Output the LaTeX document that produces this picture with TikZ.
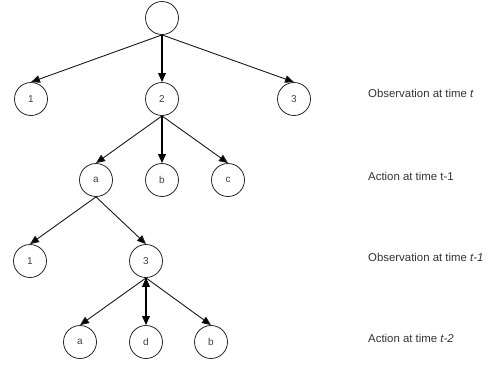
\documentclass[tikz,border=0pt]{standalone}
\usepackage{fontspec}
\setmainfont{Liberation Sans}
\usetikzlibrary{arrows.meta}

\begin{document}
\begin{tikzpicture}[x=1pt, y=1pt,
  state/.style={circle, draw=black!85, line width=0.8pt, minimum size=33pt, inner sep=0pt,
    font=\fontsize{10}{12}\selectfont, text=black!75},
  caption/.style={anchor=base west, inner sep=0pt, font=\fontsize{11.4}{14}\selectfont, text=black!80},
  >={Triangle[length=9pt,width=7.5pt]},
  thin edge/.style={line width=0.9pt},
  main edge/.style={line width=1.7pt}]
  \useasboundingbox (0,0) rectangle (497,-365);

  % tree nodes
  \node[state] (root) at (162,-18) {};
  \node[state] (o1) at (31,-99) {1};
  \node[state] (o2) at (162,-99) {2};
  \node[state] (o3) at (294,-99) {3};
  \node[state] (aa) at (96,-180) {a};
  \node[state] (ab) at (162,-180) {b};
  \node[state] (ac) at (228,-180) {c};
  \node[state] (p1) at (30,-261) {1};
  \node[state] (p3) at (146,-261) {3};
  \node[state] (qa) at (80,-342) {a};
  \node[state] (qd) at (146,-342) {d};
  \node[state] (qb) at (211,-342) {b};

  % level captions
  \node[caption] (l1) at (368,-97.7) {Observation at time \textit{t}};
  \node[caption] (l2) at (368,-180.3) {Action at time t-1};
  \node[caption] (l3) at (368,-261) {Observation at time \textit{t-1}};
  \node[caption] (l4) at (368,-342.5) {Action at time \textit{t-2}};

  \path[->, thin edge, draw=black!90]
  (root.south) edge (o1.north)
  (root.south) edge (o3.north)
  (o2.south) edge (aa.north)
  (o2.south) edge (ac.north)
  (aa.south) edge (p1.north)
  (aa.south) edge (p3.north)
  (p3.south) edge (qa.north)
  (p3.south) edge (qb.north)
  ;
  % straight down edges
  \path[->, main edge, draw=black]
  (root.south) edge (o2.north)
  (o2.south) edge (ab.north)
  (p3.south) edge (qd.north)
  ;
\end{tikzpicture}
\end{document}
